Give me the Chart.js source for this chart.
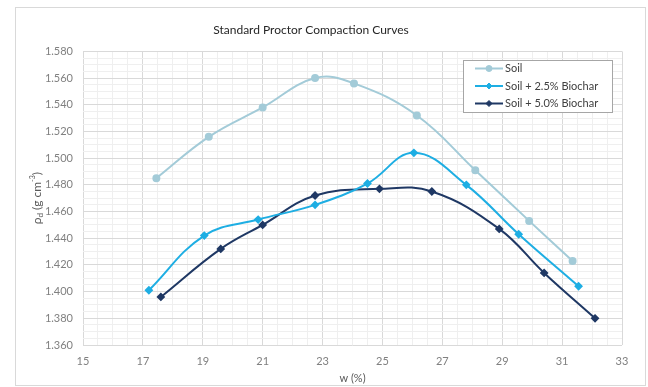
<!DOCTYPE html>
<html>
<head>
<meta charset="utf-8">
<script src="https://cdn.jsdelivr.net/npm/chart.js@4.4.0/dist/chart.umd.min.js"></script>
<style>
  html, body { margin: 0; padding: 0; background: #fff; }
  #box { width: 648px; height: 387px; }
</style>
</head>
<body>
<div id="box"><canvas id="grafico" width="648" height="387"></canvas></div>
<script>
// dados
var soloW = [17.45, 19.2, 21.0, 22.75, 24.05, 26.15, 28.1, 29.9, 31.35];
var soloRho = [1.485, 1.516, 1.538, 1.560, 1.556, 1.532, 1.491, 1.453, 1.423];

var bio25W = [17.2, 19.05, 20.85, 22.75, 24.5, 26.05, 27.8, 29.55, 31.55];
var bio25Rho = [1.401, 1.442, 1.454, 1.465, 1.481, 1.504, 1.480, 1.443, 1.404];

var bio50W = [17.6, 19.6, 21.0, 22.75, 24.9, 26.65, 28.9, 30.4, 32.1];
var bio50Rho = [1.396, 1.432, 1.450, 1.472, 1.477, 1.475, 1.447, 1.414, 1.380];

var nomes = ['Soil', 'Soil + 2.5% Biochar', 'Soil + 5.0% Biochar'];
var cores = ['#a3cbd8', '#1eaee3', '#1f3864'];
var marcadores = ['circle', 'rectRot', 'rectRot'];

function pontos(xs, ys) {
    return xs.map(function(x, i) { return { x: x, y: ys[i] }; });
}

function ehMaior(v, passo) {
    var q = v / passo;
    return Math.abs(q - Math.round(q)) < 1e-6;
}

var series = [pontos(soloW, soloRho), pontos(bio25W, bio25Rho), pontos(bio50W, bio50Rho)];

// moldura externa
var moldura = {
    id: 'moldura',
    beforeDraw: function(chart) {
        var ctx = chart.ctx;
        ctx.save();
        ctx.fillStyle = '#ffffff';
        ctx.fillRect(0, 0, chart.width, chart.height);
        ctx.strokeStyle = '#d9d9d9';
        ctx.lineWidth = 1;
        ctx.strokeRect(15.5, 7.5, 630, 378);
        ctx.restore();
    }
};

// titulo do eixo y com subscrito e sobrescrito
var tituloY = {
    id: 'tituloY',
    afterDraw: function(chart) {
        var ctx = chart.ctx;
        var a = chart.chartArea;
        var partes = [
            { t: 'ρ', s: 12, dy: 0 },
            { t: 'd', s: 8, dy: 3 },
            { t: ' (g cm', s: 12, dy: 0 },
            { t: '-3', s: 7, dy: -4 },
            { t: ')', s: 12, dy: 0 }
        ];
        ctx.save();
        var total = 0;
        partes.forEach(function(p) {
            ctx.font = p.s + 'px Lato';
            p.w = ctx.measureText(p.t).width;
            total += p.w;
        });
        ctx.translate(37, (a.top + a.bottom) / 2);
        ctx.rotate(-Math.PI / 2);
        ctx.fillStyle = '#595959';
        ctx.textBaseline = 'middle';
        var x = -total / 2;
        partes.forEach(function(p) {
            ctx.font = p.s + 'px Lato';
            ctx.fillText(p.t, x, p.dy);
            x += p.w;
        });
        ctx.restore();
    }
};

// legenda dentro da area do grafico
var legendaCaixa = {
    id: 'legendaCaixa',
    afterDraw: function(chart) {
        var ctx = chart.ctx;
        ctx.save();
        ctx.fillStyle = '#ffffff';
        ctx.fillRect(463, 60, 149, 52);
        ctx.strokeStyle = '#a6a6a6';
        ctx.lineWidth = 1;
        ctx.strokeRect(463.5, 60.5, 149, 52);
        ctx.font = '11px Lato';
        ctx.textBaseline = 'middle';
        chart.data.datasets.forEach(function(ds, i) {
            var y = 68.5 + i * 17.5;
            ctx.strokeStyle = ds.borderColor;
            ctx.lineWidth = 2;
            ctx.beginPath();
            ctx.moveTo(475, y);
            ctx.lineTo(503, y);
            ctx.stroke();
            ctx.fillStyle = ds.borderColor;
            ctx.lineWidth = 1;
            Chart.helpers.drawPoint(ctx, {
                pointStyle: ds.pointStyle,
                radius: ds.pointRadius,
                borderWidth: 1
            }, 489, y);
            ctx.fillStyle = '#404040';
            ctx.fillText(ds.label, 505, y);
        });
        ctx.restore();
    }
};

var grafico = new Chart(document.getElementById('grafico').getContext('2d'), {
    type: 'line',
    data: {
        datasets: series.map(function(d, i) {
            return {
                label: nomes[i],
                data: d,
                borderColor: cores[i],
                backgroundColor: cores[i],
                pointBackgroundColor: cores[i],
                pointBorderColor: cores[i],
                pointStyle: marcadores[i],
                pointRadius: 3,
                borderWidth: 2,
                tension: 0.4,
                fill: false
            };
        })
    },
    options: {
        responsive: false,
        animation: false,
        layout: { padding: { left: 0, right: 26, top: 0, bottom: 0 } },
        plugins: {
            legend: { display: false },
            tooltip: { enabled: false },
            title: {
                display: true,
                text: 'Standard Proctor Compaction Curves',
                color: '#262626',
                font: { family: 'Lato', size: 12, weight: 'normal' },
                padding: { top: 23, bottom: 14 }
            }
        },
        scales: {
            x: {
                type: 'linear',
                min: 15,
                max: 33,
                afterFit: function(s) { s.height = 42; },
                border: { display: false },
                grid: {
                    drawTicks: false,
                    color: function(c) { return ehMaior(c.tick.value - 15, 2) ? '#d9d9d9' : '#efefef'; }
                },
                ticks: {
                    stepSize: 0.5,
                    autoSkip: false,
                    maxRotation: 0,
                    padding: 10,
                    color: '#808080',
                    font: { family: 'Lato', size: 11 },
                    callback: function(v) { return ehMaior(v - 15, 2) ? String(Math.round(v)) : ''; }
                },
                title: {
                    display: true,
                    text: 'w (%)',
                    color: '#595959',
                    font: { family: 'Lato', size: 11 },
                    padding: { top: 0, bottom: 2 }
                }
            },
            y: {
                min: 1.36,
                max: 1.58,
                afterFit: function(s) { s.width = 83; },
                border: { display: false },
                grid: {
                    drawTicks: false,
                    color: function(c) { return ehMaior(c.tick.value, 0.02) ? '#d9d9d9' : '#efefef'; }
                },
                ticks: {
                    stepSize: 0.005,
                    maxTicksLimit: 100,
                    autoSkip: false,
                    padding: 10,
                    color: '#808080',
                    font: { family: 'Lato', size: 11 },
                    callback: function(v) { return ehMaior(v, 0.02) ? v.toFixed(3) : ''; }
                }
            }
        }
    },
    plugins: [moldura, tituloY, legendaCaixa]
});
</script>
</body>
</html>
